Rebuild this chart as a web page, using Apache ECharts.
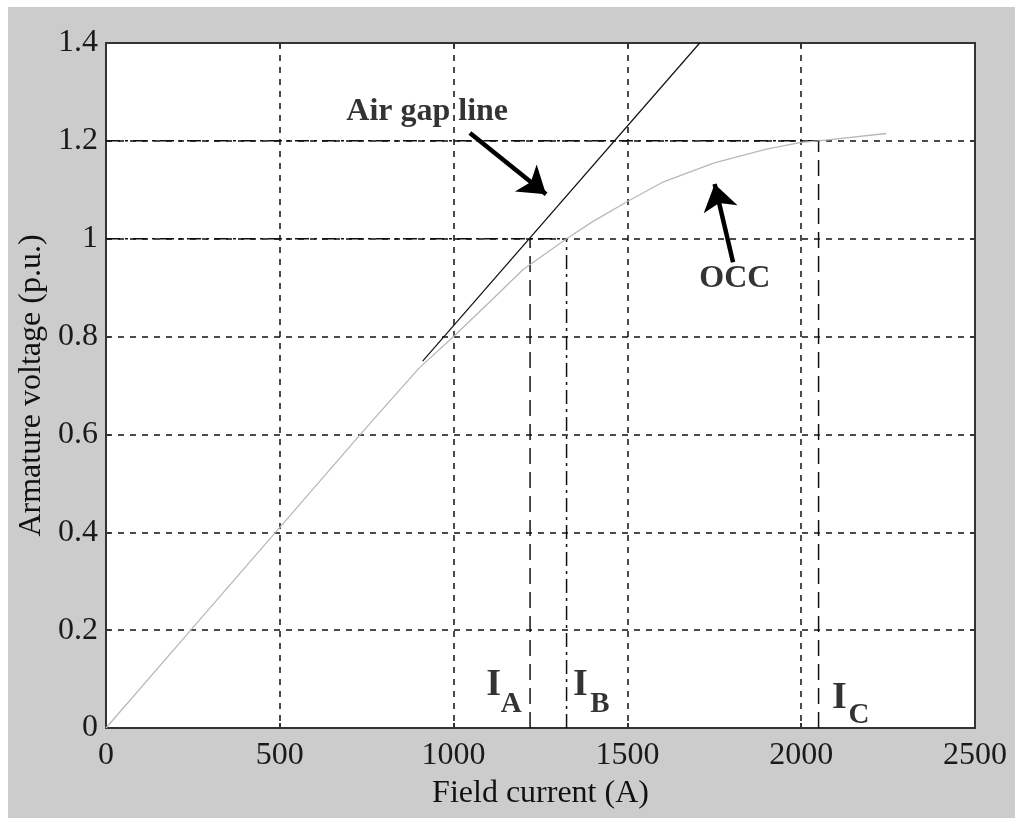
<!DOCTYPE html>
<html>
<head>
<meta charset="utf-8">
<script src="https://cdn.jsdelivr.net/npm/echarts@6/dist/echarts.min.js"></script>
<style>html,body{margin:0;padding:0;background:#fff;}#c{width:1015px;height:823px;}</style>
</head>
<body>
<div id="c"></div>
<script>
// Data
var occCurrent = [0, 250, 500, 750, 900, 1000, 1100, 1200, 1325, 1400, 1500, 1600, 1750, 1900, 2000, 2050, 2245];
var occVoltage = [0, 0.205, 0.41, 0.615, 0.735, 0.80, 0.868, 0.937, 1.0, 1.035, 1.076, 1.115, 1.155, 1.183, 1.197, 1.2, 1.215];
var airGapCurrent = [911, 1708];
var airGapVoltage = [0.75, 1.4];
var IA = 1220, IB = 1325, IC = 2050;
var xTicks = [0, 500, 1000, 1500, 2000, 2500];
var yTicks = [0, 0.2, 0.4, 0.6, 0.8, 1, 1.2, 1.4];
// annotation texts anchored in data coordinates
var textNotes = [
  {text: 'Air gap line', x: 924, y: 1.259, size: 32},
  {text: 'OCC', x: 1809, y: 0.918, size: 32},
  {text: 'I', x: 1115, y: 0.087, size: 38},
  {text: 'A', x: 1166, y: 0.049, size: 29},
  {text: 'I', x: 1365, y: 0.087, size: 38},
  {text: 'B', x: 1421, y: 0.047, size: 29},
  {text: 'I', x: 2110, y: 0.060, size: 38},
  {text: 'C', x: 2166, y: 0.025, size: 29}
];
var arrowNotes = [
  {from: [1047, 1.216], to: [1266, 1.091]},
  {from: [1804, 0.952], to: [1751, 1.112]}
];

function pairs(xs, ys){ return xs.map(function(v,i){ return [v, ys[i]]; }); }

var serif = 'Liberation Serif, Times New Roman, serif';
var dashDot = [14, 5, 3, 5];
var refStyle = {color: '#111', width: 1.5, type: dashDot};

var chart = echarts.init(document.getElementById('c'), null, {renderer: 'canvas'});
var option = {
  backgroundColor: '#fff',
  animation: false,
  graphic: [{type: 'rect', z: -10, shape: {x: 8, y: 7, width: 1007, height: 811}, style: {fill: '#cccccc'}}],
  grid: {left: 106, top: 43, width: 869, height: 685, show: true, backgroundColor: '#fff', borderColor: '#333', borderWidth: 2},
  xAxis: [{
    type: 'value', min: 0, max: 2500, interval: 500, position: 'bottom',
    name: 'Field current (A)', nameLocation: 'middle', nameGap: 50,
    nameTextStyle: {fontFamily: serif, fontSize: 32, color: '#111'},
    axisLine: {show: true, onZero: false, lineStyle: {color: '#333', width: 2}},
    axisTick: {show: true, inside: true, length: 5, lineStyle: {color: '#333', width: 2}},
    axisLabel: {fontFamily: serif, fontSize: 32, color: '#1a1a1a', margin: 12, formatter: function(v){ return xTicks.indexOf(v) >= 0 ? String(v) : ''; }},
    splitLine: {show: true, lineStyle: {color: '#111', width: 1.5, type: [6, 6]}}
  }, {
    type: 'value', min: 0, max: 2500, interval: 500, position: 'top',
    axisLine: {show: true, onZero: false, lineStyle: {color: '#333', width: 2}},
    axisTick: {show: true, inside: true, length: 5, lineStyle: {color: '#333', width: 2}},
    axisLabel: {show: false}, splitLine: {show: false}
  }],
  yAxis: [{
    type: 'value', min: 0, max: 1.4, interval: 0.2, position: 'left',
    name: 'Armature voltage (p.u.)', nameLocation: 'middle', nameGap: 58, nameRotate: 90,
    nameTextStyle: {fontFamily: serif, fontSize: 32, color: '#111'},
    axisLine: {show: true, onZero: false, lineStyle: {color: '#333', width: 2}},
    axisTick: {show: true, inside: true, length: 5, lineStyle: {color: '#333', width: 2}},
    axisLabel: {fontFamily: serif, fontSize: 32, color: '#1a1a1a', margin: 8, formatter: function(v){ var r = Math.round(v*10)/10; return yTicks.indexOf(r) >= 0 ? String(r) : ''; }},
    splitLine: {show: true, lineStyle: {color: '#111', width: 1.5, type: [6, 6]}}
  }, {
    type: 'value', min: 0, max: 1.4, interval: 0.2, position: 'right',
    axisLine: {show: true, onZero: false, lineStyle: {color: '#333', width: 2}},
    axisTick: {show: true, inside: true, length: 5, lineStyle: {color: '#333', width: 2}},
    axisLabel: {show: false}, splitLine: {show: false}
  }],
  series: [
    {type: 'line', name: 'ref1', data: [[0, 1], [IB, 1]], symbol: 'none', lineStyle: refStyle, z: 3},
    {type: 'line', name: 'ref12', data: [[0, 1.2], [IC, 1.2]], symbol: 'none', lineStyle: refStyle, z: 3},
    {type: 'line', name: 'IA', data: [[IA, 0], [IA, 1]], symbol: 'none', lineStyle: {color: '#111', width: 1.5, type: [16, 8]}, z: 3},
    {type: 'line', name: 'IB', data: [[IB, 0], [IB, 1]], symbol: 'none', lineStyle: refStyle, z: 3},
    {type: 'line', name: 'IC', data: [[IC, 0], [IC, 1.2]], symbol: 'none', lineStyle: {color: '#111', width: 1.5, type: [16, 8]}, z: 3},
    {type: 'line', name: 'OCC', data: pairs(occCurrent, occVoltage), symbol: 'none', lineStyle: {color: '#b8b8b8', width: 1.3}, z: 4},
    {type: 'line', name: 'Air gap', data: pairs(airGapCurrent, airGapVoltage), symbol: 'none', lineStyle: {color: '#111', width: 1.2}, z: 5},
    {type: 'lines', coordinateSystem: 'cartesian2d', z: 6,
      symbol: ['none', 'arrow'], symbolSize: [12, 26],
      lineStyle: {color: '#000', width: 4.5, opacity: 1, curveness: 0},
      data: arrowNotes.map(function(a){ return {coords: [a.from, a.to]}; })},
    {type: 'scatter', z: 7, symbolSize: 0, silent: true,
      data: textNotes.map(function(t){ return {value: [t.x, t.y], label: {show: true, position: 'inside', formatter: t.text, fontFamily: serif, fontWeight: 'bold', fontSize: t.size, color: '#000'}}; })}
  ]
};
chart.setOption(option);
</script>
</body>
</html>
